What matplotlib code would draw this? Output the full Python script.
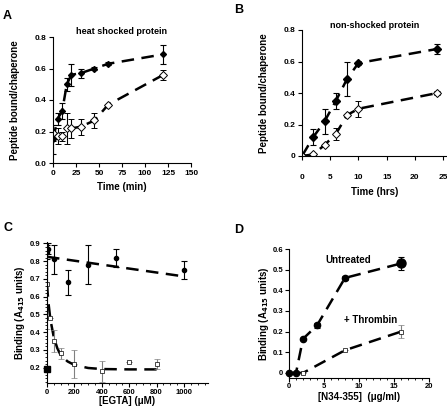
import matplotlib.pyplot as plt
import numpy as np

plt.rcParams['font.family'] = ['Liberation Sans', 'DejaVu Sans']
plt.rcParams['font.weight'] = 'bold'
plt.rcParams['axes.labelweight'] = 'bold'

# ---- Panel A: heat shocked protein ----
a_time = [0, 5, 10, 15, 20, 30, 45, 60, 120]
a_filled = [0.15, 0.28, 0.33, 0.50, 0.56, 0.57, 0.60, 0.63, 0.69]
a_filled_err = [0.09, 0.04, 0.05, 0.04, 0.07, 0.03, 0.01, 0.01, 0.06]
a_open = [0.19, 0.17, 0.17, 0.22, 0.22, 0.23, 0.27, 0.37, 0.56]
a_open_err = [0.05, 0.05, 0.03, 0.10, 0.06, 0.05, 0.05, 0.0, 0.03]

# ---- Panel B: non-shocked protein ----
b_time = [0, 2, 4, 6, 8, 10, 24]
b_filled = [0.0, 0.12, 0.22, 0.35, 0.49, 0.59, 0.68]
b_filled_err = [0.0, 0.05, 0.08, 0.05, 0.11, 0.01, 0.03]
b_open = [0.0, 0.01, 0.07, 0.14, 0.26, 0.30, 0.40]
b_open_err = [0.0, 0.01, 0.0, 0.04, 0.0, 0.05, 0.01]

# ---- Panel C: EGTA ----
c_x_filled = [0, 10, 50, 150, 300, 500, 1000]
c_filled = [0.85, 0.87, 0.81, 0.68, 0.78, 0.82, 0.75]
c_filled_err = [0.04, 0.03, 0.08, 0.07, 0.11, 0.05, 0.05]
c_x_open = [0, 25, 50, 100, 200, 400, 600, 800]
c_open = [0.67, 0.48, 0.35, 0.28, 0.22, 0.18, 0.23, 0.22]
c_open_err = [0.25, 0.0, 0.06, 0.03, 0.08, 0.06, 0.0, 0.03]
c_ctrl_x = [0]
c_ctrl = [0.195]
c_fit1_x = [0, 1010]
c_fit1_y = [0.825, 0.713]
c_fit2_x = [0, 10, 25, 50, 75, 100, 150, 200, 300, 400, 600, 800]
c_fit2_y = [0.67, 0.57, 0.47, 0.37, 0.31, 0.27, 0.235, 0.215, 0.198, 0.192, 0.19, 0.19]

# ---- Panel D: N34-355 ----
d_x = [0, 1, 2, 4, 8, 16]
d_untreated = [0.0, 0.0, 0.165, 0.23, 0.46, 0.53]
d_untreated_err = [0.0, 0.0, 0.0, 0.01, 0.01, 0.03]
d_x_thr = [2, 8, 16]
d_thrombin = [0.0, 0.11, 0.20]
d_thrombin_err = [0.0, 0.0, 0.03]

W, H = 447, 408
fig = plt.figure(figsize=(W / 100, H / 100), dpi=100)


def ax_px(l, r, t, b):
    return fig.add_axes([l / W, (H - b) / H, (r - l) / W, (b - t) / H])


def style(ax):
    for s in ['top', 'right']:
        ax.spines[s].set_visible(False)
    ax.tick_params(labelsize=6, length=3, width=0.8, pad=2)
    for lab in ax.get_xticklabels() + ax.get_yticklabels():
        lab.set_fontweight('bold')


dash = dict(color='black', lw=1.8, dashes=(5, 3))
ekw = dict(ecolor='black', elinewidth=0.8, capsize=2, capthick=0.8, ls='none')

# A
ax = ax_px(53, 191, 37, 163)
ax.plot(a_time, a_filled, **dash)
ax.plot(a_time, a_open, **dash)
ax.errorbar(a_time, a_filled, yerr=a_filled_err, marker='D', ms=3, mfc='black', mec='black', **ekw)
ax.errorbar(a_time, a_open, yerr=a_open_err, marker='D', ms=4, mfc='white', mec='black', mew=0.7, **ekw)
ax.set_xlim(0, 150)
ax.set_ylim(0, 0.8)
ax.set_xticks([0, 25, 50, 75, 100, 125, 150])
ax.set_yticks([0.0, 0.2, 0.4, 0.6, 0.8])
ax.set_yticklabels(['0.0', '0.2', '0.4', '0.6', '0.8'])
style(ax)
ax.set_xlabel('Time (min)', fontsize=7, labelpad=4)
ax.set_ylabel('Peptide bound/chaperone', fontsize=7, labelpad=10)
ax.set_title('heat shocked protein', fontsize=6.5, fontweight='bold', pad=2)

# B
ax = ax_px(302, 447, 30, 156)
ax.plot(b_time, b_filled, **dash)
ax.plot(b_time, b_open, **dash)
ax.errorbar(b_time, b_filled, yerr=b_filled_err, marker='D', ms=4, mfc='black', mec='black', **ekw)
ax.errorbar(b_time, b_open, yerr=b_open_err, marker='D', ms=4, mfc='white', mec='black', mew=0.7, **ekw)
ax.set_xlim(0, 25.7)
ax.set_ylim(0, 0.8)
ax.set_xticks([0, 5, 10, 15, 20, 25])
ax.set_yticks([0, 0.2, 0.4, 0.6, 0.8])
ax.set_yticklabels(['0', '0.2', '0.4', '0.6', '0.8'])
style(ax)
ax.tick_params(axis='x', pad=10)
ax.set_xlabel('Time (hrs)', fontsize=7, labelpad=4)
ax.set_ylabel('Peptide bound/chaperone', fontsize=7, labelpad=10)
ax.set_title('non-shocked protein', fontsize=6.5, fontweight='bold', pad=0)

# C
ax = ax_px(47, 208, 241.7, 382.7)
ax.plot(c_fit1_x, c_fit1_y, **dash)
ax.plot(c_fit2_x, c_fit2_y, **dash)
ax.errorbar(c_x_filled, c_filled, yerr=c_filled_err, marker='o', ms=3, mfc='black', mec='black', **ekw)
ax.errorbar(c_x_open, c_open, yerr=c_open_err, marker='s', ms=3, mfc='white', mec='black', mew=0.5,
            ecolor='gray', elinewidth=0.8, capsize=2, capthick=0.8, ls='none')
ax.plot(c_ctrl_x, c_ctrl, marker='s', ms=5, color='black', ls='none', clip_on=False)
ax.set_xlim(0, 1175)
ax.set_ylim(0.115, 0.91)
ax.set_xticks([0, 200, 400, 600, 800, 1000])
ax.set_xticks(np.arange(0, 1175, 50), minor=True)
ax.set_yticks([0.2, 0.3, 0.4, 0.5, 0.6, 0.7, 0.8, 0.9])
ax.set_yticks(np.arange(0.12, 0.91, 0.02), minor=True)
ax.tick_params(which='minor', length=1.5, width=0.6)
style(ax)
ax.tick_params(labelsize=5.5, pad=1.5)
ax.set_xlabel('[EGTA] (\u03bcM)', fontsize=7, labelpad=0)
ax.set_ylabel('Binding (A$_{\\mathbf{415}}$ units)', fontsize=7, labelpad=2)

# D
ax = ax_px(289, 429, 249, 377.7)
ax.plot(d_x, d_untreated, **dash)
ax.plot([d_x[1]] + d_x_thr, [d_untreated[1]] + d_thrombin, **dash)
ax.errorbar(d_x[:-1], d_untreated[:-1], yerr=d_untreated_err[:-1], marker='o', ms=4.5, mfc='black', mec='black', clip_on=False, **ekw)
ax.errorbar(d_x[-1:], d_untreated[-1:], yerr=d_untreated_err[-1:], marker='o', ms=6.5, mfc='black', mec='black', **ekw)
ax.errorbar(d_x_thr, d_thrombin, yerr=d_thrombin_err, marker='s', ms=3.5, mfc='white', mec='black', mew=0.5,
            ecolor='gray', elinewidth=0.8, capsize=2, capthick=0.8, ls='none')
ax.text(8.5, 0.545, 'Untreated', fontsize=7, fontweight='bold', ha='center', va='center')
ax.text(11.6, 0.256, '+ Thrombin', fontsize=7, fontweight='bold', ha='center', va='center')
ax.set_xlim(0, 20)
ax.set_ylim(-0.023, 0.6)
ax.set_xticks([0, 5, 10, 15, 20])
ax.set_xticks(np.arange(0, 21, 1), minor=True)
ax.set_yticks([0, 0.1, 0.2, 0.3, 0.4, 0.5, 0.6])
ax.set_yticklabels(['0', '0.1', '0.2', '0.3', '0.4', '0.5', '0.6'])
ax.tick_params(which='minor', length=1.5, width=0.6)
style(ax)
ax.tick_params(labelsize=5.5, pad=1)
ax.set_xlabel('[N34-355]  (\u03bcg/ml)', fontsize=7, labelpad=1)
ax.set_ylabel('Binding (A$_{\\mathbf{415}}$ units)', fontsize=7, labelpad=1)

# panel letters
for lab, x, y in [('A', 3, 10), ('B', 234, 4), ('C', 3, 222), ('D', 234, 224)]:
    fig.text(x / W, 1 - y / H, lab, fontsize=9, fontweight='bold', va='top', ha='left')

fig.savefig('out.png', dpi=100)
